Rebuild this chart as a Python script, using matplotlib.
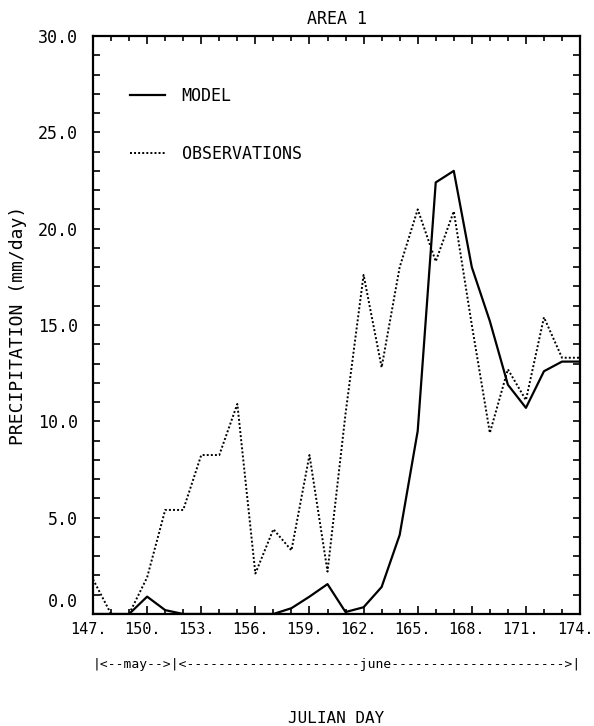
import numpy as np
import matplotlib.pyplot as plt
from matplotlib.ticker import MultipleLocator
from matplotlib.transforms import ScaledTranslation

plt.rcParams['font.family'] = ['DejaVu Sans Mono']

# daily values (julian day 147..174)
days = list(range(147, 175))
model = [0.0, 0.0, 0.0, 0.9, 0.2, 0.0, 0.0, 0.0, 0.0, 0.0,
         0.0, 0.3, 0.9, 1.55, 0.1, 0.35, 1.4, 4.1, 9.5, 22.4,
         23.0, 18.0, 15.2, 11.9, 10.7, 12.6, 13.1, 13.1]
observations = [1.8, 0.0, 0.0, 1.9, 5.4, 5.4, 8.25, 8.25, 10.9, 2.1,
                4.4, 3.3, 8.25, 2.2, 10.4, 17.6, 12.8, 18.0, 21.0, 18.3,
                20.9, 15.0, 9.4, 12.7, 11.1, 15.4, 13.3, 13.3]

xtick_days = [147, 150, 153, 156, 159, 162, 165, 168, 171, 174]
xtick_labels = ['147.', '150.', '153.', '156.', '159.', '162.', '165.', '168.', '171.', '174.']
ytick_vals = [0, 5, 10, 15, 20, 25, 30]
ytick_labels = ['0.0', '5.0', '10.0', '15.0', '20.0', '25.0', '30.0']

month_text = '|<--may-->|<' + '-' * 22 + 'june' + '-' * 22 + '>|'

fig = plt.figure(figsize=(5.94, 7.26), dpi=100)
ax = fig.add_axes([0.1566, 0.1543, 0.8199, 0.7961])

ax.plot(days, model, color='black', lw=1.6, label='MODEL')
ax.plot(days, observations, color='black', lw=1.4, ls=(0, (1, 1.1)), label='OBSERVATIONS')

ax.set_xlim(147, 174)
ax.set_ylim(0, 30)
ax.set_xticks(xtick_days, xtick_labels, fontsize=11)
ax.xaxis.set_minor_locator(MultipleLocator(1))
ax.set_yticks(ytick_vals, ytick_labels, fontsize=12)
ax.yaxis.set_minor_locator(MultipleLocator(1))

ax.tick_params(which='both', direction='in', top=True, right=True, width=1.2)
ax.tick_params(axis='x', which='major', length=6, pad=6)
ax.tick_params(axis='x', which='minor', length=3.5)
ax.tick_params(axis='y', which='both', length=5, pad=11)
for s in ax.spines.values():
    s.set_linewidth(1.6)

# labels sit a little left of their ticks, 0.0 is lifted off the corner
for lab in ax.get_xticklabels():
    lab.set_transform(lab.get_transform() + ScaledTranslation(-0.05, 0, fig.dpi_scale_trans))
ylabs = ax.get_yticklabels()
ylabs[0].set_transform(ylabs[0].get_transform() + ScaledTranslation(0, 0.14, fig.dpi_scale_trans))

ax.set_title('AREA 1', fontsize=12, pad=9)
ax.set_ylabel('PRECIPITATION (mm/day)', fontsize=13)
ax.yaxis.set_label_coords(-0.135, 0.5)
ax.set_xlabel('JULIAN DAY', fontsize=11.5)
ax.xaxis.set_label_coords(0.5, -0.168)

ax.text(147, -0.088, month_text, transform=ax.get_xaxis_transform(),
        ha='left', va='center', fontsize=9.4)

ax.legend(loc='upper left', bbox_to_anchor=(0.076, 0.912), frameon=False,
          fontsize=12, handlelength=2.1, handletextpad=1.0, labelspacing=2.4,
          borderpad=0, borderaxespad=0)

fig.savefig('out.png', dpi=100)
